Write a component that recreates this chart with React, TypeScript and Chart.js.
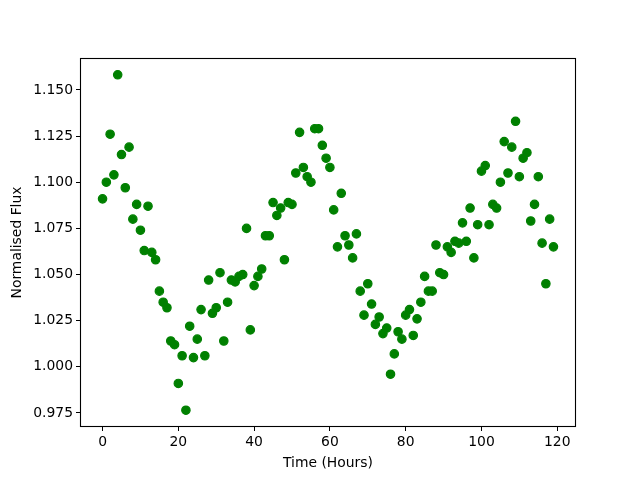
import React, { useEffect, useRef } from "react";
import { Chart, registerables } from "chart.js";

Chart.register(...registerables);

const hours: number[] = [
  0, 1, 2, 3, 4, 5, 6, 7, 8, 9, 10, 11, 12, 13, 14, 15, 16, 17, 18, 19,
  20, 21, 22, 23, 24, 25, 26, 27, 28, 29, 30, 31, 32, 33, 34, 35, 36, 37, 38, 39,
  40, 41, 42, 43, 44, 45, 46, 47, 48, 49, 50, 51, 52, 53, 54, 55, 56, 57, 58, 59,
  60, 61, 62, 63, 64, 65, 66, 67, 68, 69, 70, 71, 72, 73, 74, 75, 76, 77, 78, 79,
  80, 81, 82, 83, 84, 85, 86, 87, 88, 89, 90, 91, 92, 93, 94, 95, 96, 97, 98, 99,
  100, 101, 102, 103, 104, 105, 106, 107, 108, 109, 110, 111, 112, 113, 114, 115, 116, 117, 118, 119,
];

const flux: number[] = [
  1.091, 1.100, 1.126, 1.104, 1.1582, 1.115, 1.097, 1.119, 1.080, 1.088,
  1.074, 1.063, 1.087, 1.062, 1.058, 1.041, 1.035, 1.032, 1.014, 1.012,
  0.991, 1.006, 0.9765, 1.022, 1.005, 1.015, 1.031, 1.006, 1.047, 1.029,
  1.032, 1.051, 1.014, 1.035, 1.047, 1.046, 1.049, 1.050, 1.075, 1.020,
  1.044, 1.049, 1.053, 1.071, 1.071, 1.089, 1.082, 1.086, 1.058, 1.089,
  1.088, 1.105, 1.127, 1.108, 1.103, 1.100, 1.129, 1.129, 1.120, 1.113,
  1.108, 1.085, 1.065, 1.094, 1.071, 1.066, 1.059, 1.072, 1.041, 1.028,
  1.045, 1.034, 1.023, 1.027, 1.018, 1.021, 0.996, 1.007, 1.019, 1.015,
  1.028, 1.031, 1.017, 1.026, 1.035, 1.049, 1.041, 1.041, 1.066, 1.051,
  1.050, 1.065, 1.062, 1.068, 1.067, 1.078, 1.068, 1.086, 1.059, 1.077,
  1.106, 1.109, 1.077, 1.088, 1.086, 1.100, 1.122, 1.105, 1.119, 1.133,
  1.103, 1.113, 1.116, 1.079, 1.088, 1.103, 1.067, 1.045, 1.080, 1.065,
];

const xTicks: number[] = [0, 20, 40, 60, 80, 100, 120];
const yTicks: number[] = [0.975, 1.0, 1.025, 1.05, 1.075, 1.1, 1.125, 1.15];

const xLabel = "Time (Hours)";
const yLabel = "Normalised Flux";

const FONT = { family: "'DejaVu Sans', sans-serif", size: 13.9 };

const frame = {
  id: "frame",
  afterDraw(chart: any) {
    const { ctx, chartArea } = chart;
    ctx.save();
    ctx.strokeStyle = "#000";
    ctx.lineWidth = 1.1;
    const l = Math.round(chartArea.left) + 0.5;
    const t = Math.round(chartArea.top) + 0.5;
    const r = Math.round(chartArea.right) - 0.5;
    const b = Math.round(chartArea.bottom) - 0.5;
    ctx.strokeRect(l, t, r - l, b - t);
    ctx.restore();
  },
};

export default function App() {
  const ref = useRef<HTMLCanvasElement | null>(null);

  useEffect(() => {
    if (!ref.current) return;
    const xMin = Math.min(...hours);
    const xMax = Math.max(...hours);
    const yMin = Math.min(...flux);
    const yMax = Math.max(...flux);
    const xm = (xMax - xMin) * 0.05;
    const ym = (yMax - yMin) * 0.05;

    const chart = new Chart(ref.current, {
      type: "scatter",
      data: {
        datasets: [
          {
            data: hours.map((h, i) => ({ x: h, y: flux[i] })),
            backgroundColor: "#008000",
            borderColor: "#008000",
            borderWidth: 1.2,
            pointRadius: 4.2,
            pointHoverRadius: 4.2,
          },
        ],
      },
      options: {
        responsive: false,
        animation: false,
        devicePixelRatio: 1,
        layout: { padding: { top: 58, right: 64, left: 0, bottom: 0 } },
        plugins: {
          legend: { display: false },
          tooltip: { enabled: false },
        },
        scales: {
          x: {
            type: "linear",
            min: xMin - xm,
            max: xMax + xm,
            afterBuildTicks: (scale: any) => {
              scale.ticks = xTicks.map((v) => ({ value: v }));
            },
            afterFit: (scale: any) => {
              scale.height = 53;
            },
            border: { display: false },
            grid: {
              drawOnChartArea: false,
              drawTicks: true,
              tickLength: 4,
              color: "#000",
              lineWidth: 1,
            },
            ticks: {
              color: "#000",
              font: FONT,
              padding: 3,
              maxRotation: 0,
              autoSkip: false,
              callback: (v: any) => String(v),
            },
            title: {
              display: true,
              text: xLabel,
              color: "#000",
              font: FONT,
              padding: { top: 0, bottom: 8.5 },
            },
          },
          y: {
            type: "linear",
            min: yMin - ym,
            max: yMax + ym,
            afterBuildTicks: (scale: any) => {
              scale.ticks = yTicks.map((v) => ({ value: v }));
            },
            afterFit: (scale: any) => {
              scale.width = 80;
            },
            border: { display: false },
            grid: {
              drawOnChartArea: false,
              drawTicks: true,
              tickLength: 4,
              color: "#000",
              lineWidth: 1,
            },
            ticks: {
              color: "#000",
              font: FONT,
              padding: 3,
              autoSkip: false,
              callback: (v: any) => Number(v).toFixed(3),
            },
            title: {
              display: true,
              text: yLabel,
              color: "#000",
              font: FONT,
              padding: { top: 9, bottom: 0 },
            },
          },
        },
      },
      plugins: [frame],
    });
    return () => chart.destroy();
  }, []);

  return (
    <div style={{ position: "absolute", left: 0, top: 0, width: 640, height: 480, background: "#fff" }}>
      <canvas ref={ref} width={640} height={480} />
    </div>
  );
}
